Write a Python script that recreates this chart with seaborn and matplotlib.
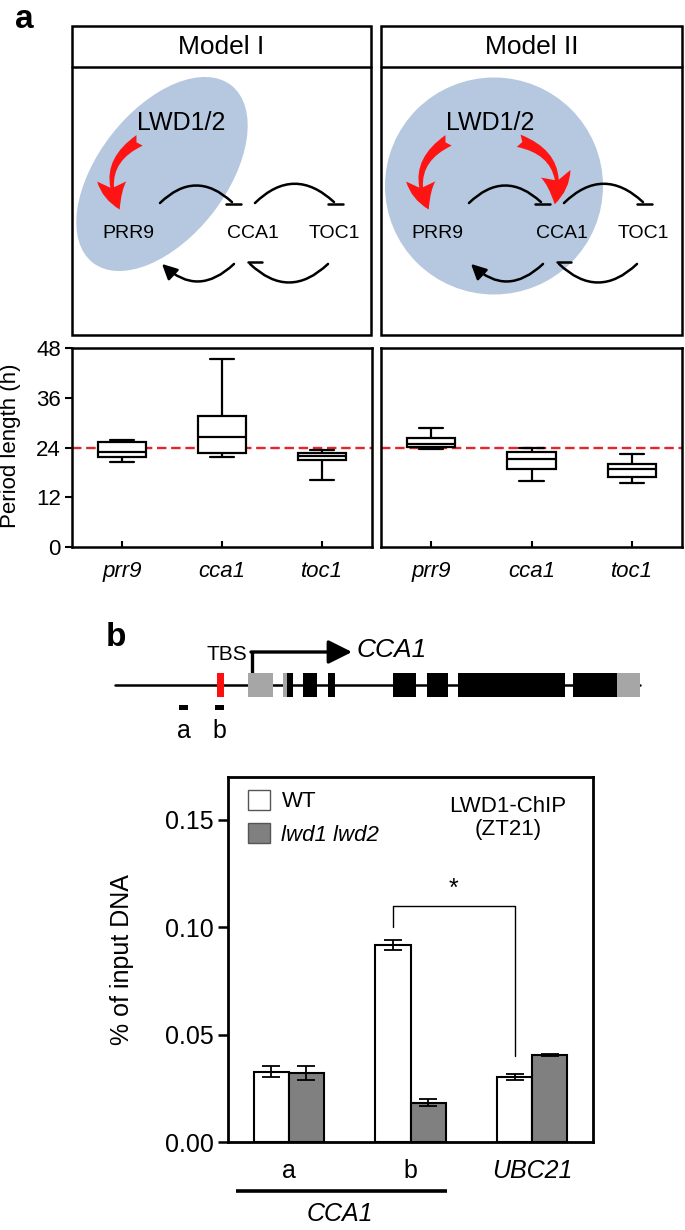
import numpy as np
import pandas as pd
import matplotlib
matplotlib.use('Agg')
import matplotlib.pyplot as plt
import seaborn as sns
from matplotlib.patches import Rectangle, Ellipse, FancyArrowPatch

# ---------------- data ----------------
genes = ['prr9', 'cca1', 'toc1']
# five-number summaries (min, Q1, median, Q3, max) of period length (h)
model1_prr9 = [20.5, 21.8, 22.9, 25.3, 25.8]
model1_cca1 = [21.6, 22.7, 26.6, 31.5, 45.3]
model1_toc1 = [16.2, 21.0, 21.9, 22.6, 23.4]
model2_prr9 = [23.7, 24.1, 24.9, 26.4, 28.7]
model2_cca1 = [16.0, 18.8, 21.3, 22.9, 23.8]
model2_toc1 = [15.5, 17.0, 18.9, 20.1, 22.4]
wt_period = 24
period_ticks = [0, 12, 24, 36, 48]

chip_regions = ['a', 'b', 'UBC21']
genotypes = ['WT', 'lwd1 lwd2']
wt_chip = [0.0327, 0.0917, 0.0303]
wt_chip_err = [0.0026, 0.0025, 0.0014]
mut_chip = [0.0323, 0.0183, 0.0406]
mut_chip_err = [0.0033, 0.0016, 0.0005]
chip_ticks = [0.00, 0.05, 0.10, 0.15]
chip_ticklabels = ['0.00', '0.05', '0.10', '0.15']

# CCA1 gene model (positions along the drawn locus)
locus_span = (0, 525)
utr_blocks = [(133, 158), (168, 172), (502, 525)]
exon_blocks = [(172, 178), (188, 202), (213, 220), (278, 301), (312, 333), (343, 450), (458, 502)]
tbs_block = (102, 109)
probe_blocks = {'a': (64, 73), 'b': (100, 109)}
tss_pos = 137

# ---------------- figure ----------------
sns.set_theme(style='ticks')
plt.rcParams['font.family'] = ['Liberation Sans', 'DejaVu Sans']
for k in ['text.color', 'axes.labelcolor', 'xtick.color', 'ytick.color', 'axes.edgecolor']:
    plt.rcParams[k] = 'black'

W, H = 685, 1230
fig = plt.figure(figsize=(W / 100, H / 100), dpi=100, facecolor='white')


def rect(x0, y0, x1, y1):
    return [x0 / W, 1 - y1 / H, (x1 - x0) / W, (y1 - y0) / H]


ov = fig.add_axes([0, 0, 1, 1], zorder=5)
ov.set_xlim(0, W)
ov.set_ylim(H, 0)
ov.axis('off')

BLUE = '#b5c8e0'
RED = '#ff1414'

# panel letters
ov.text(24, 20, 'a', fontsize=24, fontweight='bold', ha='center', va='center')
ov.text(116, 638, 'b', fontsize=24, fontweight='bold', ha='center', va='center')

# ---- model diagrams ----
for x0, x1, title in [(72, 371, 'Model I'), (381, 682, 'Model II')]:
    ov.add_patch(Rectangle((x0, 26), x1 - x0, 309, fill=False, ec='black', lw=1.8, zorder=3))
    ov.plot([x0, x1], [67, 67], color='black', lw=1.8, zorder=3)
    ov.text((x0 + x1) / 2, 47, title, fontsize=19, ha='center', va='center')

# blue regions
ov.add_patch(Ellipse((162, 174), 225, 128, angle=-52, color=BLUE, lw=0, zorder=1))
ov.add_patch(Ellipse((494, 186), 218, 217, color=BLUE, lw=0, zorder=1))


def network(dx):
    ov.text(128 + dx, 233, 'PRR9', fontsize=14, ha='center', va='center', zorder=4)
    ov.text(253 + dx, 233, 'CCA1', fontsize=14, ha='center', va='center', zorder=4)
    ov.text(334 + dx, 233, 'TOC1', fontsize=14, ha='center', va='center', zorder=4)
    # upper inhibition arcs
    for a, b in [(158, 234), (253, 336)]:
        ov.add_patch(FancyArrowPatch((a + dx, 205), (b + dx, 204), arrowstyle='-',
                                     connectionstyle='arc3,rad=-0.5', lw=1.8, color='black', zorder=4))
        ov.plot([b - 8 + dx, b + 7 + dx], [204, 204], color='black', lw=1.8, zorder=4)
    # lower arcs
    ov.add_patch(FancyArrowPatch((236 + dx, 262), (160 + dx, 262),
                                 arrowstyle='-|>,head_length=0.7,head_width=0.35',
                                 mutation_scale=13, connectionstyle='arc3,rad=-0.5',
                                 lw=1.8, color='black', zorder=4))
    ov.add_patch(FancyArrowPatch((330 + dx, 262), (248 + dx, 262), arrowstyle='-',
                                 connectionstyle='arc3,rad=-0.5', lw=1.8, color='black', zorder=4))
    ov.plot([248 + dx, 262 + dx], [262, 262], color='black', lw=1.8, zorder=4)
    ov.text(181 + dx, 123, 'LWD1/2', fontsize=18, ha='center', va='center', zorder=4)


network(0)
network(309)

fancy = 'fancy,head_length=1.0,head_width=1.0,tail_width=0.42'
ov.add_patch(FancyArrowPatch((142, 139), (121, 212), arrowstyle=fancy, mutation_scale=21,
                             connectionstyle='arc3,rad=0.5', color=RED, lw=0, zorder=4))
ov.add_patch(FancyArrowPatch((451, 139), (430, 212), arrowstyle=fancy, mutation_scale=21,
                             connectionstyle='arc3,rad=0.5', color=RED, lw=0, zorder=4))
ov.add_patch(FancyArrowPatch((516, 140), (554, 207), arrowstyle=fancy, mutation_scale=22,
                             connectionstyle='arc3,rad=-0.5', color=RED, lw=0, zorder=4))

# ---- box plots ----
rows = []
for model, arrs in [('Model I', [model1_prr9, model1_cca1, model1_toc1]),
                    ('Model II', [model2_prr9, model2_cca1, model2_toc1])]:
    for g, arr in zip(genes, arrs):
        for v in arr:
            rows.append((model, g, v))
period_df = pd.DataFrame(rows, columns=['model', 'gene', 'period'])

axL = fig.add_axes(rect(72, 348, 372, 547))
axR = fig.add_axes(rect(381, 348, 682, 547))
for ax, model in [(axL, 'Model I'), (axR, 'Model II')]:
    sns.boxplot(data=period_df[period_df.model == model], x='gene', y='period', order=genes,
                whis=(0, 100), width=0.48, color='white', linecolor='black', linewidth=1.6,
                showfliers=False, saturation=1, ax=ax)
    ax.axhline(wt_period, color='#e3262b', lw=1.7, ls=(0, (4, 2)), zorder=0.5)
    ax.set_ylim(0, 48)
    ax.set_xlim(-0.5, 2.5)
    ax.set_xlabel('')
    ax.set_ylabel('')
    for s in ax.spines.values():
        s.set_visible(True)
        s.set_linewidth(1.8)
        s.set_color('black')
    ax.tick_params(axis='x', direction='in', length=4, width=1.5, labelsize=16, pad=10, color='black')
    for t in ax.get_xticklabels():
        t.set_fontstyle('italic')
    ax.set_yticks(period_ticks)
axL.tick_params(axis='y', direction='out', length=5, width=1.5, labelsize=16, pad=3, color='black')
axR.tick_params(axis='y', left=False, labelleft=False)
ov.text(11, 446, 'Period length (h)', rotation=90, fontsize=16, ha='center', va='center')

# ---- gene model ----
GX0 = 115
ov.plot([GX0 + locus_span[0], GX0 + locus_span[1]], [685, 685], color='black', lw=1.8, zorder=2)
for a, b in utr_blocks:
    ov.add_patch(Rectangle((GX0 + a, 673), b - a, 24, color='#a6a6a6', lw=0, zorder=3))
for a, b in exon_blocks:
    ov.add_patch(Rectangle((GX0 + a, 673), b - a, 24, color='black', lw=0, zorder=3))
ov.add_patch(Rectangle((GX0 + tbs_block[0], 673), tbs_block[1] - tbs_block[0], 24, color='#ff1010', lw=0, zorder=3))
for lab, (a, b) in probe_blocks.items():
    ov.add_patch(Rectangle((GX0 + a, 705), b - a, 5, color='black', lw=0))
    ov.text(GX0 + (a + b) / 2, 731, lab, fontsize=18, ha='center', va='center')
ov.text(227, 654, 'TBS', fontsize=15, ha='center', va='center')
ov.plot([GX0 + tss_pos, GX0 + tss_pos], [673, 652], color='black', lw=2.4, solid_capstyle='butt')
ov.add_patch(FancyArrowPatch((GX0 + tss_pos - 1, 652), (352, 652),
                             arrowstyle='-|>,head_length=0.9,head_width=0.45', mutation_scale=16,
                             lw=2.4, color='black', shrinkA=0, shrinkB=0))
ov.text(357, 650, 'CCA1', fontsize=19, fontstyle='italic', ha='left', va='center')

# ---- ChIP bar chart ----
chip_df = pd.DataFrame({'region': chip_regions * 2,
                        'genotype': [genotypes[0]] * 3 + [genotypes[1]] * 3,
                        'value': wt_chip + mut_chip})
axB = fig.add_axes(rect(228, 777, 593, 1142))
sns.barplot(data=chip_df, x='region', y='value', hue='genotype', order=chip_regions,
            hue_order=genotypes, palette=['white', '#808080'], edgecolor='black', linewidth=1.5,
            width=0.58, saturation=1, errorbar=None, ax=axB)
for cont, vals, err in zip(axB.containers, [wt_chip, mut_chip], [wt_chip_err, mut_chip_err]):
    xs = [b.get_x() + b.get_width() / 2 for b in cont]
    axB.errorbar(xs, vals, yerr=err, fmt='none', ecolor='black', elinewidth=1.3, capsize=6.5, capthick=1.3)
axB.set_ylim(0, 0.17)
axB.set_xlim(-0.5, 2.5)
axB.set_yticks(chip_ticks)
axB.set_yticklabels(chip_ticklabels)
axB.set_xlabel('')
axB.set_ylabel('')
for s in axB.spines.values():
    s.set_visible(True)
    s.set_linewidth(2.0)
    s.set_color('black')
axB.tick_params(axis='y', direction='out', length=7, width=1.8, labelsize=18, pad=3, color='black')
axB.tick_params(axis='x', length=0, labelsize=18, pad=12)
axB.get_xticklabels()[2].set_fontstyle('italic')

leg = axB.get_legend()
handles = leg.legend_handles
labels = [t.get_text() for t in leg.get_texts()]
for h in handles:
    h.set_edgecolor('#555555')
    h.set_linewidth(1.0)
lg = axB.legend(handles, labels, loc='upper left', bbox_to_anchor=(0.055, 0.965), frameon=False,
                fontsize=16, handlelength=1.0, handleheight=1.0, handletextpad=0.5,
                labelspacing=0.5, borderpad=0, borderaxespad=0)
lg.get_texts()[1].set_fontstyle('italic')
axB.text(0.767, 0.888, 'LWD1-ChIP\n(ZT21)', transform=axB.transAxes, fontsize=16,
         ha='center', va='center', linespacing=1.15)

xb = axB.containers[0][1].get_x() + axB.containers[0][1].get_width() / 2
xu = axB.containers[0][2].get_x() + axB.containers[0][2].get_width() / 2
axB.plot([xb, xb, xu, xu], [0.100, 0.110, 0.110, 0.040], color='black', lw=1.0)
axB.text((xb + xu) / 2, 0.1125, '*', fontsize=18, ha='center', va='bottom')

ov.text(122, 960, '% of input DNA', rotation=90, fontsize=18, ha='center', va='center')
ov.plot([236, 447], [1191, 1191], color='black', lw=2.6, solid_capstyle='butt')
ov.text(340, 1214, 'CCA1', fontsize=18, fontstyle='italic', ha='center', va='center')

fig.savefig('out.png', dpi=100, facecolor='white')
